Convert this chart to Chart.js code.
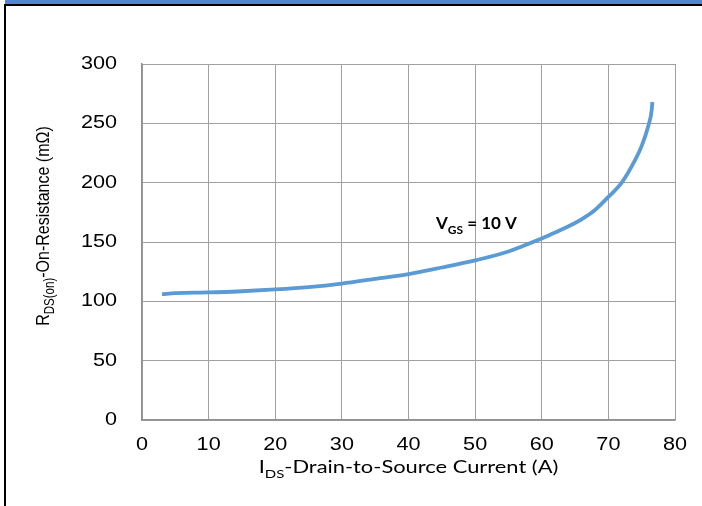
<!DOCTYPE html>
<html>
<head>
<meta charset="utf-8">
<script src="https://cdn.jsdelivr.net/npm/chart.js@4"></script>
<style>
  html, body { margin: 0; padding: 0; background: #fff; }
  #wrap { position: relative; width: 702px; height: 506px; overflow: hidden; }
  #band { position: absolute; left: 5px; top: 0; width: 697px; height: 4px; background: #4f87d0; }
  #frame { position: absolute; left: 4px; top: 4px; width: 700px; height: 510px;
           border-top: 2px solid #000; border-left: 2px solid #000; }
  canvas { position: absolute; left: 0; top: 0; }
</style>
</head>
<body>
<div id="wrap">
  <div id="band"></div>
  <div id="frame"></div>
  <canvas id="myChart" width="702" height="506"></canvas>
</div>
<script>
// drain current (A) and on-resistance (mOhm)
var current = [3, 5, 10, 15, 20, 25, 30, 35, 40, 45, 50, 55, 60, 62, 65, 66.5, 68, 70, 72, 74, 75, 76, 76.5, 76.6];
var resistance = [106, 107, 107.5, 108.5, 110, 112, 115, 119, 123, 128.5, 134.5, 142, 153, 158, 166, 171, 177, 188, 200, 219, 231, 248, 261, 268];

var xTicks = [0, 10, 20, 30, 40, 50, 60, 70, 80];
var yTicks = [0, 50, 100, 150, 200, 250, 300];

var labelAt = { x: 50.2, y: 161 };

// the source picture is a bit stretched sideways
var stretch = 1.2;

var points = current.map(function(c, i) { return { x: c, y: resistance[i] }; });

// text with a subscript part: [main, sub, rest], centred on 0
function subText(ctx, parts, size, subSize, font, weight) {
    ctx.font = weight + ' ' + size + 'px ' + font;
    var w1 = ctx.measureText(parts[0]).width;
    var w3 = ctx.measureText(parts[2]).width;
    ctx.font = weight + ' ' + subSize + 'px ' + font;
    var w2 = ctx.measureText(parts[1]).width;
    var x = -(w1 + w2 + w3) / 2;
    ctx.textAlign = 'left';
    ctx.textBaseline = 'alphabetic';
    ctx.font = weight + ' ' + size + 'px ' + font;
    ctx.fillText(parts[0], x, 0);
    ctx.font = weight + ' ' + subSize + 'px ' + font;
    ctx.fillText(parts[1], x + w1, size * 0.28);
    ctx.font = weight + ' ' + size + 'px ' + font;
    ctx.fillText(parts[2], x + w1 + w2, 0);
}

var arial = '"Liberation Sans", Arial, sans-serif';
var calibri = 'Lato, "Open Sans", sans-serif';

var texts = {
    id: 'texts',
    afterDraw: function(chart) {
        var ctx = chart.ctx;
        var area = chart.chartArea;
        var sx = chart.scales.x, sy = chart.scales.y;
        ctx.save();
        ctx.fillStyle = '#000';

        // tick labels
        ctx.font = '18px ' + arial;
        ctx.textBaseline = 'middle';
        xTicks.forEach(function(v) {
            ctx.save();
            ctx.translate(sx.getPixelForValue(v), 445);
            ctx.scale(stretch, 1);
            ctx.textAlign = 'center';
            ctx.fillText(String(v), 0, 0);
            ctx.restore();
        });
        yTicks.forEach(function(v) {
            ctx.save();
            ctx.translate(117, sy.getPixelForValue(v));
            ctx.scale(stretch, 1);
            ctx.textAlign = 'right';
            ctx.fillText(String(v), 0, 0);
            ctx.restore();
        });

        // x axis title
        ctx.save();
        ctx.translate((area.left + area.right) / 2, 473);
        ctx.scale(1.25, 1);
        subText(ctx, ['I', 'DS', '-Drain-to-Source Current (A)'], 17.5, 12, calibri, 'normal');
        ctx.restore();

        // y axis title
        ctx.save();
        ctx.translate(49, 226);
        ctx.rotate(-Math.PI / 2);
        ctx.scale(1, stretch);
        subText(ctx, ['R', 'DS(on)', '-On-Resistance (m\u03A9)'], 16, 11.5, arial, 'normal');
        ctx.restore();

        // curve label
        ctx.save();
        ctx.translate(sx.getPixelForValue(labelAt.x), sy.getPixelForValue(labelAt.y));
        subText(ctx, ['V', 'GS', ' = 10 V'], 17, 12, calibri, 'bold');
        ctx.restore();

        ctx.restore();
    }
};

var ctx = document.getElementById('myChart').getContext('2d');
var chart = new Chart(ctx, {
    type: 'scatter',
    data: {
        datasets: [{
            data: points,
            showLine: true,
            borderColor: '#5b9bd5',
            borderWidth: 3.8,
            pointRadius: 0,
            fill: false,
            cubicInterpolationMode: 'monotone'
        }]
    },
    options: {
        responsive: false,
        animation: false,
        devicePixelRatio: 1,
        layout: { padding: { top: 64, right: 27, left: 0, bottom: 0 } },
        plugins: {
            legend: { display: false },
            tooltip: { enabled: false }
        },
        scales: {
            x: {
                type: 'linear',
                min: 0,
                max: 80,
                afterBuildTicks: function(s) { s.ticks = xTicks.map(function(v) { return { value: v }; }); },
                afterFit: function(s) { s.height = 86; },
                grid: { color: '#a0a0a0', lineWidth: 1, drawTicks: false },
                border: { color: '#909090', width: 1.5 },
                ticks: { display: false }
            },
            y: {
                type: 'linear',
                min: 0,
                max: 300,
                afterBuildTicks: function(s) { s.ticks = yTicks.map(function(v) { return { value: v }; }); },
                afterFit: function(s) { s.width = 142; },
                grid: { color: '#a0a0a0', lineWidth: 1, drawTicks: false },
                border: { color: '#909090', width: 1.5 },
                ticks: { display: false }
            }
        }
    },
    plugins: [texts]
});
</script>
</body>
</html>
